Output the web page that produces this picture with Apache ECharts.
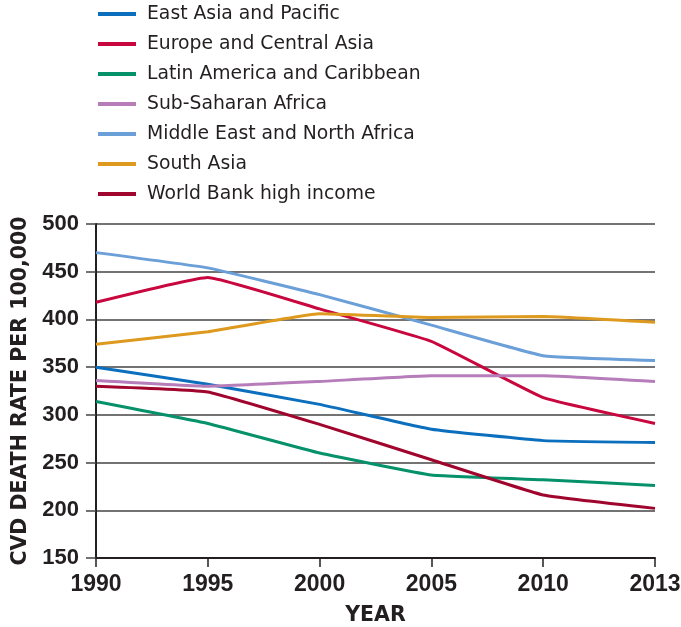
<!DOCTYPE html>
<html>
<head>
<meta charset="utf-8">
<script src="https://cdn.jsdelivr.net/npm/echarts@6/dist/echarts.min.js"></script>
<style>
html,body{margin:0;padding:0;background:#fff;}
#chart{width:681px;height:627px;}
</style>
</head>
<body>
<div id="chart"></div>
<script>
const years = ['1990', '1995', '2000', '2005', '2010', '2013'];
const eastAsia = [350, 332, 311, 285, 273, 271];
const europe = [418, 444, 411, 377, 318, 291];
const latinAmerica = [314, 291, 260, 237, 232, 226];
const subSaharan = [336, 330, 335, 341, 341, 335];
const middleEast = [470, 454, 426, 394, 362, 357];
const southAsia = [374, 387, 406, 402, 403, 397];
const highIncome = [330, 324, 290, 253, 216, 202];
const yTicks = [150, 200, 250, 300, 350, 400, 450, 500];

const names = ['East Asia and Pacific', 'Europe and Central Asia', 'Latin America and Caribbean',
  'Sub-Saharan Africa', 'Middle East and North Africa', 'South Asia', 'World Bank high income'];
const values = [eastAsia, europe, latinAmerica, subSaharan, middleEast, southAsia, highIncome];
const colors = ['#0b6fbd', '#c8073f', '#05916a', '#b67dba', '#6a9fd8', '#de9a1f', '#a0052e'];
const numFont = 'Liberation Sans, Arial, Helvetica, sans-serif';
const textFont = 'DejaVu Sans, Liberation Sans, sans-serif';

const chart = echarts.init(document.getElementById('chart'), null, {renderer: 'canvas'});
chart.setOption({
  animation: false,
  color: colors,
  textStyle: {fontFamily: numFont},
  legend: {
    orient: 'vertical',
    left: 98,
    top: 4,
    padding: 0,
    itemWidth: 38,
    itemHeight: 4,
    itemGap: 10,
    icon: 'rect',
    textStyle: {fontFamily: textFont, fontSize: 18.8, color: '#231f20', lineHeight: 20, padding: [0, 0, 0, 6]},
    data: names
  },
  grid: {left: 96, right: 26, top: 224, bottom: 69, containLabel: false, outerBoundsMode: 'none'},
  xAxis: {
    type: 'category',
    data: years,
    boundaryGap: false,
    name: 'YEAR',
    nameLocation: 'middle',
    nameGap: 47,
    nameTextStyle: {fontFamily: textFont, fontSize: 20.5, fontWeight: 'bold', color: '#231f20'},
    axisLine: {show: true, lineStyle: {color: '#231f20', width: 2}},
    axisTick: {show: true, length: 9, alignWithLabel: true, lineStyle: {color: '#231f20', width: 1.5}},
    axisLabel: {fontFamily: numFont, fontSize: 23, fontWeight: 'bold', color: '#231f20', margin: 15},
    splitLine: {show: false}
  },
  yAxis: {
    type: 'value',
    min: 150,
    max: 500,
    interval: 50,
    name: 'CVD DEATH RATE PER 100,000',
    nameLocation: 'middle',
    nameRotate: 90,
    nameGap: 64,
    nameTextStyle: {fontFamily: textFont, fontSize: 20.5, fontWeight: 'bold', color: '#231f20'},
    axisLine: {show: true, lineStyle: {color: '#231f20', width: 2}},
    axisTick: {show: true, length: 10, lineStyle: {color: '#444', width: 1.5}},
    axisLabel: {
      fontFamily: numFont, fontSize: 22, fontWeight: 'bold', color: '#231f20', margin: 17,
      formatter: v => (yTicks.indexOf(v) >= 0 ? String(v) : '')
    },
    splitLine: {show: true, lineStyle: {color: '#444', width: 1.5}}
  },
  series: names.map((n, i) => ({
    name: n,
    type: 'line',
    data: values[i],
    symbol: 'none',
    smooth: 0.1,
    lineStyle: {width: 3, color: colors[i]},
    itemStyle: {color: colors[i]},
    z: 3
  }))
});
</script>
</body>
</html>
